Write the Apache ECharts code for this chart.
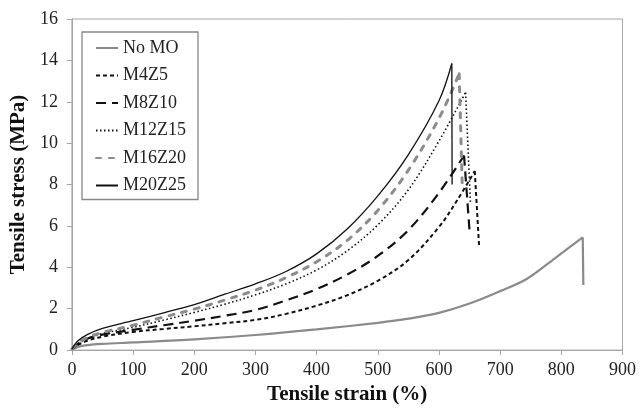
<!DOCTYPE html>
<html>
<head>
<meta charset="utf-8">
<script src="https://cdn.jsdelivr.net/npm/echarts@6/dist/echarts.min.js"></script>
<style>
html,body{margin:0;padding:0;background:#fff;}
#c{width:639px;height:410px;}
</style>
</head>
<body>
<div id="c"></div>
<script>
// Series names
const seriesNames = ['No MO', 'M4Z5', 'M8Z10', 'M12Z15', 'M16Z20', 'M20Z25'];

// Tensile strain (%) / tensile stress (MPa) (rising part, up to break)
const noMoStrain  = [0, 10, 25, 50, 100, 200, 300, 400, 500, 550, 600, 650, 700, 744, 790, 835];
const noMoStress  = [0.02, 0.15, 0.24, 0.3, 0.37, 0.52, 0.73, 1.0, 1.32, 1.52, 1.8, 2.25, 2.85, 3.45, 4.45, 5.45];

const m4z5Strain  = [0, 10, 25, 50, 100, 150, 200, 250, 300, 350, 400, 450, 500, 550, 600, 630, 658.5];
const m4z5Stress  = [0.05, 0.25, 0.45, 0.65, 0.88, 1.02, 1.15, 1.3, 1.46, 1.75, 2.15, 2.65, 3.35, 4.35, 5.95, 7.25, 8.65];

const m8z10Strain = [0, 10, 25, 50, 100, 150, 200, 250, 300, 350, 400, 450, 500, 550, 600, 641];
const m8z10Stress = [0.05, 0.3, 0.55, 0.75, 0.98, 1.2, 1.42, 1.66, 1.94, 2.4, 2.95, 3.65, 4.55, 5.8, 7.6, 9.4];

const m12z15Strain = [0, 10, 25, 50, 100, 150, 200, 250, 300, 350, 400, 450, 500, 550, 600, 643.5];
const m12z15Stress = [0.05, 0.3, 0.55, 0.8, 1.1, 1.45, 1.82, 2.22, 2.67, 3.2, 3.87, 4.8, 6.05, 7.75, 10.1, 12.45];

const m16z20Strain = [0, 10, 25, 50, 100, 150, 200, 250, 300, 350, 400, 450, 500, 550, 600, 633];
const m16z20Stress = [0.05, 0.35, 0.6, 0.85, 1.2, 1.6, 1.98, 2.42, 2.9, 3.5, 4.27, 5.3, 6.75, 8.7, 11.2, 13.35];

const m20z25Strain = [0, 10, 25, 50, 100, 150, 200, 250, 300, 350, 400, 450, 500, 550, 600, 621];
const m20z25Stress = [0.05, 0.45, 0.75, 1.05, 1.42, 1.8, 2.2, 2.7, 3.2, 3.8, 4.65, 5.85, 7.45, 9.45, 12.05, 13.85];

// Break (drop) segments: [strain at peak, strain at end], [stress at peak, stress at end]
const noMoBreak   = { strain: [835, 836],     stress: [5.45, 3.15] };
const m4z5Break   = { strain: [658.5, 665.5], stress: [8.65, 5.07] };
const m8z10Break  = { strain: [641, 650.5],   stress: [9.4, 5.56] };
const m12z15Break = { strain: [643.5, 651.5], stress: [12.45, 7.08] };
const m16z20Break = { strain: [633, 638],     stress: [13.35, 8.0] };
const m20z25Break = { strain: [621, 621.5],   stress: [13.85, 8.0] };

// Axis ticks
const xTicks = [0, 100, 200, 300, 400, 500, 600, 700, 800, 900];
const yTicks = [0, 2, 4, 6, 8, 10, 12, 14, 16];

function pairs(xs, ys) { return xs.map((x, i) => [x, ys[i]]); }

const styles = [
  { color: '#8a8a8a', width: 2.2, type: 'solid' },
  { color: '#111111', width: 2, type: [4, 3] },
  { color: '#111111', width: 2.2, type: [10, 6] },
  { color: '#111111', width: 1.6, type: [1.5, 2.5] },
  { color: '#8c8c8c', width: 3, type: [5, 8], cap: 'round' },
  { color: '#111111', width: 1.3, type: 'solid' }
];
const curves = [
  pairs(noMoStrain, noMoStress),
  pairs(m4z5Strain, m4z5Stress),
  pairs(m8z10Strain, m8z10Stress),
  pairs(m12z15Strain, m12z15Stress),
  pairs(m16z20Strain, m16z20Stress),
  pairs(m20z25Strain, m20z25Stress)
];
const breaks = [noMoBreak, m4z5Break, m8z10Break, m12z15Break, m16z20Break, m20z25Break]
  .map(b => pairs(b.strain, b.stress));

function lineStyleOf(i) {
  return { color: styles[i].color, width: styles[i].width, type: styles[i].type, cap: styles[i].cap || 'butt' };
}

const series = [];
seriesNames.forEach((name, i) => {
  series.push({
    name: name, type: 'line', data: curves[i], symbol: 'none', smooth: 0.35,
    color: styles[i].color, lineStyle: lineStyleOf(i)
  });
  series.push({
    name: name, type: 'line', data: breaks[i], symbol: 'none', smooth: false,
    color: styles[i].color, lineStyle: lineStyleOf(i)
  });
});

const font = 'Liberation Serif';
const chart = echarts.init(document.getElementById('c'), null, { renderer: 'canvas' });
chart.setOption({
  animation: false,
  backgroundColor: '#ffffff',
  grid: { left: 66, right: 15, top: 19, bottom: 58, show: true, borderColor: '#a6a6a6', borderWidth: 1 },
  legend: {
    left: 82, top: 32,
    orient: 'vertical',
    data: seriesNames,
    itemWidth: 22, itemHeight: 14, itemGap: 9.5,
    padding: [7, 12, 5, 13],
    borderColor: '#888888', borderWidth: 1.3,
    backgroundColor: '#ffffff',
    itemStyle: { opacity: 0 },
    textStyle: { fontFamily: font, fontSize: 18, color: '#222', lineHeight: 18 }
  },
  xAxis: {
    type: 'value', min: xTicks[0], max: xTicks[xTicks.length - 1], interval: 100,
    name: 'Tensile strain (%)', nameLocation: 'middle', nameGap: 33,
    nameTextStyle: { fontFamily: font, fontSize: 21, fontWeight: 'bold', color: '#111' },
    axisLine: { show: true, lineStyle: { color: '#a6a6a6', width: 1 } },
    axisTick: { show: true, length: 5, lineStyle: { color: '#a6a6a6' } },
    axisLabel: { fontFamily: font, fontSize: 18, color: '#222', margin: 11 },
    splitLine: { show: false }
  },
  yAxis: {
    type: 'value', min: yTicks[0], max: yTicks[yTicks.length - 1], interval: 2,
    name: 'Tensile stress (MPa)', nameLocation: 'middle', nameGap: 29,
    nameTextStyle: { fontFamily: font, fontSize: 21, fontWeight: 'bold', color: '#111' },
    axisLine: { show: true, lineStyle: { color: '#a6a6a6', width: 1 } },
    axisTick: { show: true, length: 5, lineStyle: { color: '#a6a6a6' } },
    axisLabel: { fontFamily: font, fontSize: 18, color: '#222', margin: 14 },
    splitLine: { show: false }
  },
  series: series
});
</script>
</body>
</html>
